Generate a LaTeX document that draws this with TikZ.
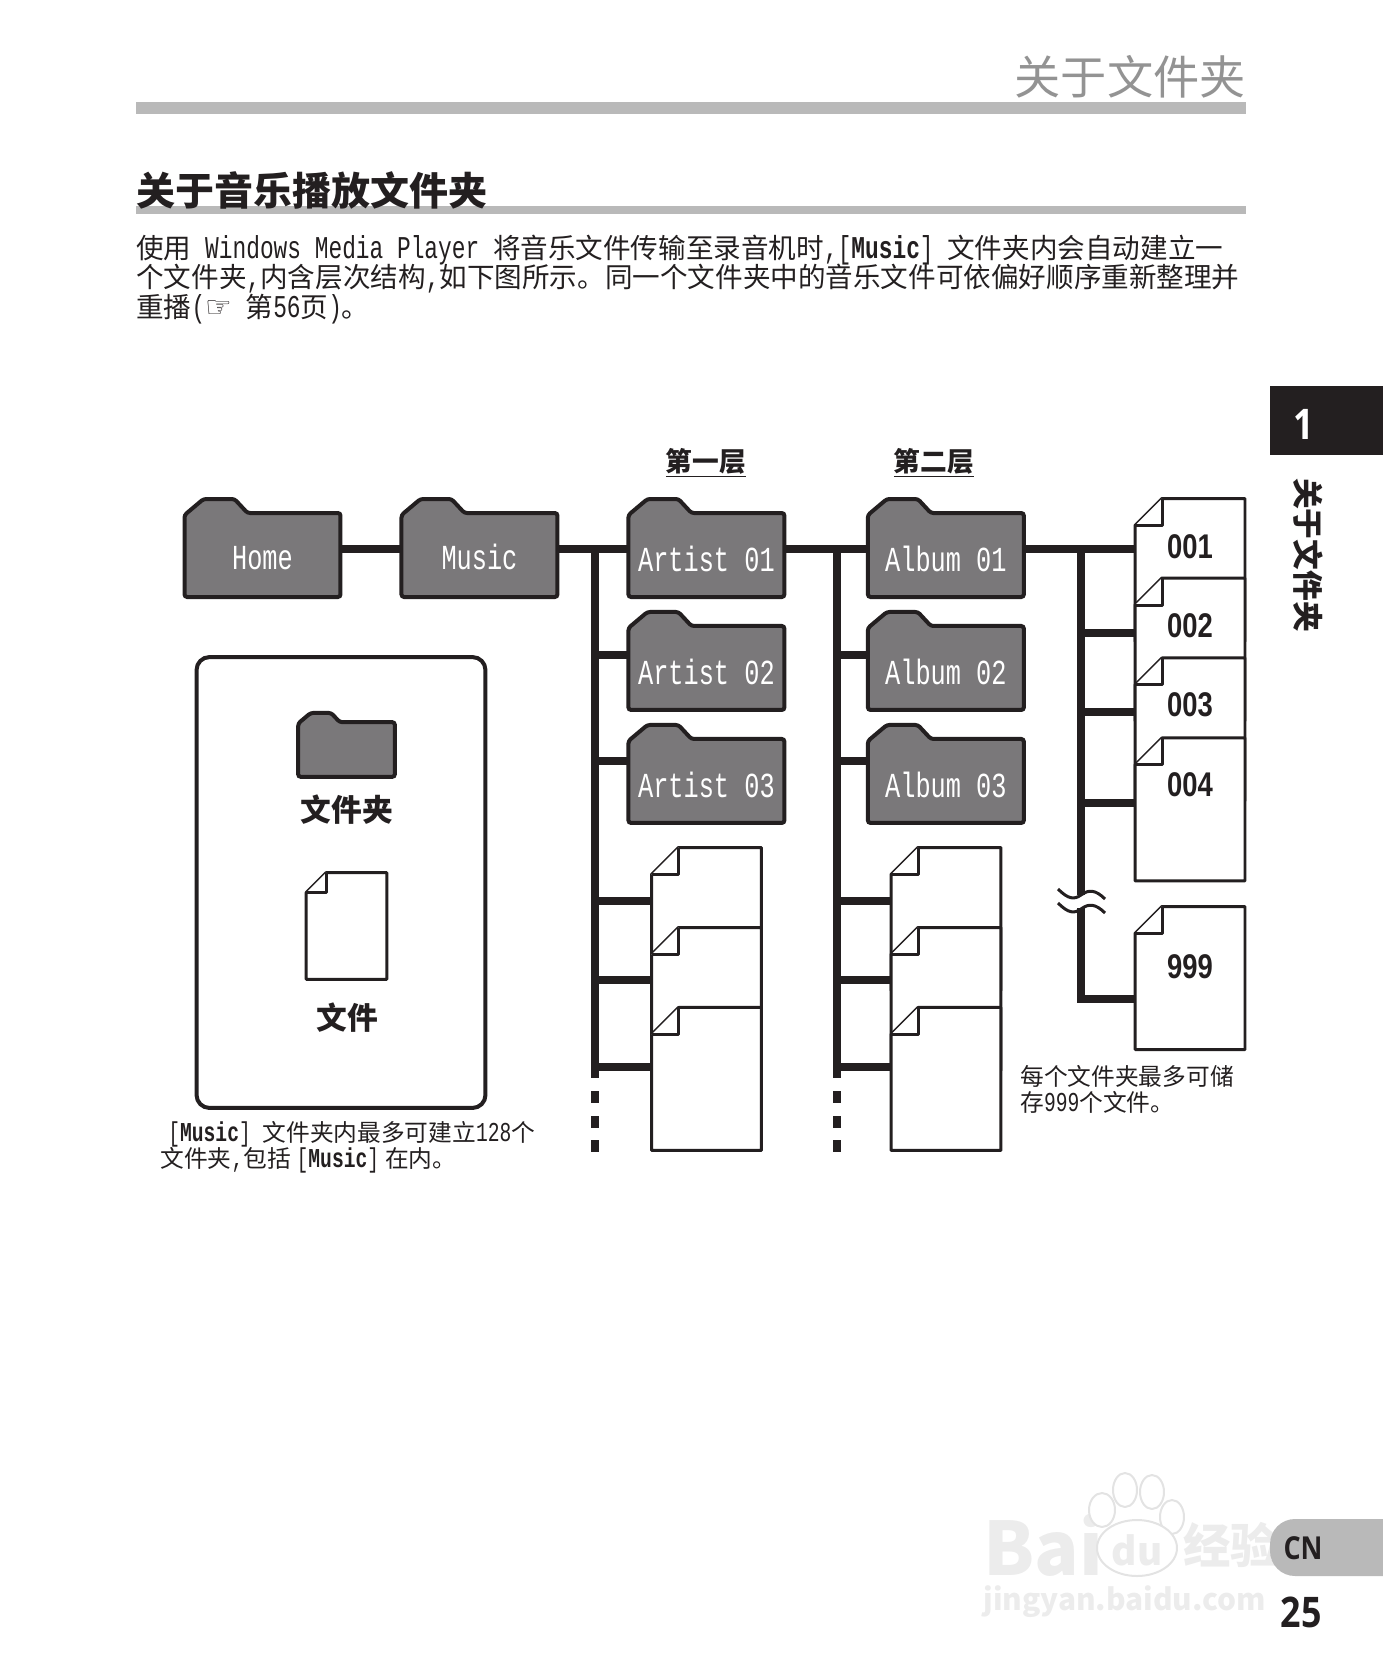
\documentclass[tikz,border=0pt]{standalone}
\usepackage{fontspec}
\setmainfont{Noto Sans CJK SC}
\newfontfamily\narfont[FakeStretch=0.72,Scale=1.15]{Liberation Mono}
\newfontfamily\foldfont[FakeStretch=0.72]{Liberation Mono}
\newfontfamily\pagefont[FakeStretch=0.8]{Liberation Sans}
\newfontfamily\tabfont[FakeStretch=0.85]{Open Sans}
\newfontfamily\handfont{DejaVu Sans}
\newcommand{\nar}[1]{{\narfont #1}}
\usetikzlibrary{backgrounds}
\definecolor{foldergray}{HTML}{7A787A}
\definecolor{rulegray}{HTML}{B9B9B9}
\definecolor{inkblack}{HTML}{231F20}

\begin{document}
\begin{tikzpicture}[x=0.02cm, y=-0.02cm, auto, node distance=4.34cm]
	% Define block styles
	\tikzstyle{folder} = [rectangle, inner sep=0pt, outer sep=0pt, minimum width=3.12cm, minimum height=1.68cm, text height=0.67cm, text=white, font=\foldfont\fontsize{20}{20}\selectfont]
	\tikzstyle{page} = [rectangle, inner sep=0pt, outer sep=0pt, minimum width=2.20cm, minimum height=2.86cm]
	\tikzstyle{foldline} = [draw=inkblack, fill=foldergray, line width=0.08cm, rounded corners=1.5pt]
	\tikzstyle{pageline} = [draw=inkblack, fill=white, line width=0.06cm, line join=round]
	\tikzstyle{line} = [draw=inkblack, line width=0.16cm]
	\tikzstyle{num} = [inner sep=0pt, text=inkblack, font=\pagefont\bfseries\fontsize{19.5}{19.5}\selectfont]
	\tikzstyle{note} = [inner sep=0pt, anchor=west, text=inkblack, font=\fontsize{13.5}{13.5}\selectfont]
	\tikzstyle{body} = [inner sep=0pt, anchor=west, text=inkblack, font=\fontsize{15.7}{15.7}\selectfont]
	\tikzstyle{head} = [inner sep=0pt, text=inkblack, font=\bfseries\fontsize{15.2}{15.2}\selectfont]
	\tikzstyle{legendtext} = [inner sep=0pt, text=inkblack, font=\bfseries\fontsize{17.5}{17.5}\selectfont]
	\tikzstyle{rulebar} = [rectangle, fill=rulegray, inner sep=0pt, minimum width=22.2cm]
	\tikzstyle{paw} = [draw=gray!22, fill=white, line width=0.04cm]
	\tikzstyle{wm} = [inner sep=0pt, text=gray!15]
	\useasboundingbox (0,0) rectangle (1383,1678);

	% Page furniture
	\node [rulebar, minimum height=0.24cm] (toprule) at (691,108) {};
	\node [rulebar, minimum height=0.16cm] (headrule) at (691,210) {};
	\node [inner sep=0pt, anchor=east, text=gray!85, font=\fontsize{26.3}{26.3}\selectfont] (runhead) at (1246,77) {关于文件夹};
	\node [inner sep=0pt, anchor=west, text=inkblack, font=\bfseries\fontsize{22.2}{22.2}\selectfont] (title) at (136,190) {关于音乐播放文件夹};
	\node [body] (line a) at (136,250) {使用\nar{ Windows Media Player }将音乐文件传输至录音机时\nar{,[}{\narfont\bfseries Music}\nar{] }文件夹内会自动建立一};
	\node [body] (line b) at (136,279) {个文件夹\nar{,}内含层次结构\nar{,}如下图所示。同一个文件夹中的音乐文件可依偏好顺序重新整理并};
	\node [body] (line c) at (136,309) {重播\nar{(}{\handfont\fontsize{17}{17}\selectfont ☞}\nar{ }第\nar{56}页\nar{)}。};

	% Side tab
	\node [rectangle, fill=inkblack, inner sep=0pt, minimum width=2.26cm, minimum height=1.38cm] (chapter box) at (1326.5,420.5) {};
	\node [inner sep=0pt, text=white, font=\tabfont\bfseries\fontsize{24}{24}\selectfont] (chapter) at (1304,424) {1};
	\node [inner sep=0pt, rotate=-90, text=inkblack, font=\bfseries\fontsize{17.5}{17.5}\selectfont] (side title) at (1308,555) {关于文件夹};

	% Watermark
	\node [wm, anchor=west, font=\bfseries\fontsize{42}{42}\selectfont] (wm bai) at (983,1545) {Bai};
	\draw [paw] (1102,1510) ellipse (13 and 17);
	\draw [paw] (1125,1490) ellipse (12 and 17);
	\draw [paw] (1152,1492) ellipse (12 and 17);
	\draw [paw] (1172,1517) ellipse (12 and 17);
	\draw [paw] (1137,1548) ellipse (40 and 28);
	\node [wm, font=\bfseries\fontsize{22}{22}\selectfont] (wm du) at (1137,1550) {du};
	\node [wm, anchor=west, font=\bfseries\fontsize{27}{27}\selectfont] (wm jing) at (1183,1545) {经验};
	\node [wm, anchor=west, font=\bfseries\fontsize{17}{17}\selectfont] (wm url) at (983,1602) {jingyan.baidu.com};

	% Language and page number
	\fill [rulegray, rounded corners=0.5cm] (1270,1519) rectangle (1420,1576);
	\node [inner sep=0pt, text=inkblack, font=\tabfont\bfseries\fontsize{18}{18}\selectfont] (lang) at (1303,1548) {CN};
	\node [inner sep=0pt, text=inkblack, font=\tabfont\bfseries\fontsize{24}{24}\selectfont] (pageno) at (1301,1612) {25};

	% Nodes
	\node [folder, text height=0.58cm] (home) at (262.5,555) {Home};
	\node [folder, text height=0.58cm, right of=home] (music) {Music};
	\node [folder, right of=music, node distance=4.54cm] (artist1) {Artist 01};
	\node [folder, below of=artist1, node distance=2.26cm] (artist2) {Artist 02};
	\node [folder, below of=artist2, node distance=2.26cm] (artist3) {Artist 03};
	\node [folder, right of=artist1, node distance=4.79cm] (album1) {Album 01};
	\node [folder, below of=album1, node distance=2.26cm] (album2) {Album 02};
	\node [folder, below of=album2, node distance=2.26cm] (album3) {Album 03};

	\node [page] (file a1) at (706.5,919) {};
	\node [page, below of=file a1, node distance=1.60cm] (file a2) {};
	\node [page, below of=file a2, node distance=1.60cm] (file a3) {};
	\node [page] (file b1) at (946,919) {};
	\node [page, below of=file b1, node distance=1.60cm] (file b2) {};
	\node [page, below of=file b2, node distance=1.60cm] (file b3) {};
	\node [page] (file 001) at (1190,570) {};
	\node [page, below of=file 001, node distance=1.59cm] (file 002) {};
	\node [page, below of=file 002, node distance=1.60cm] (file 003) {};
	\node [page, below of=file 003, node distance=1.60cm] (file 004) {};
	\node [page] (file 999) at (1190,978) {};

	\node [num] (label 001) at (1190,547) {001};
	\node [num] (label 002) at (1190,626) {002};
	\node [num] (label 003) at (1190,705) {003};
	\node [num] (label 004) at (1190,785) {004};
	\node [num] (label 999) at (1190,967) {999};

	\node [head] (level one) at (706,463) {\underline{第一层}};
	\node [head] (level two) at (934,463) {\underline{第二层}};

	% Legend
	\node [rectangle, draw=inkblack, line width=0.08cm, rounded corners=0.26cm, inner sep=0pt, minimum width=5.78cm, minimum height=9.02cm] (legend box) at (341,882.5) {};
	\node [rectangle, inner sep=0pt, minimum width=1.92cm, minimum height=1.08cm] (legend folder) at (346.5,749.5) {};
	\node [rectangle, inner sep=0pt, minimum width=1.60cm, minimum height=2.12cm] (legend file) at (346.5,926) {};
	\node [legendtext] (legend folder text) at (347,810) {文件夹};
	\node [legendtext] (legend file text) at (347,1018) {文件};

	% Notes
	\node [note] (note a) at (168,1134) {\nar{[}{\narfont\bfseries Music}\nar{] }文件夹内最多可建立\nar{128}个};
	\node [note] (note b) at (160,1160) {文件夹\nar{,}包括\hspace{0.25em}\nar{[}{\narfont\bfseries Music}\nar{]}\hspace{0.25em}在内。};
	\node [note] (note c) at (1020,1076) {每个文件夹最多可储};
	\node [note] (note d) at (1020,1102) {存\nar{999}个文件。};

	% Folder and file outlines
	\begin{scope}[on background layer]
		\foreach \f/\s in {home/1,music/1,artist1/1,artist2/1,artist3/1,album1/1,album2/1,album3/1,legend folder/0.66}
			\path [foldline] (\f.south west) -- ([yshift=-\s*0.04cm]\f.north west) -- ++({\s*19},{-\s*16}) -- ++({\s*31},0) -- ++({\s*13},{\s*14}) -- (\f.north east) -- (\f.south east) -- cycle;
		\foreach \p/\d in {file a1/27,file a2/27,file a3/27,file b1/27,file b2/27,file b3/27,file 001/27,file 002/27,file 003/27,file 004/27,file 999/27,legend file/20} {
			\path [pageline] ([xshift=\d*0.02cm]\p.north west) -- (\p.north east) -- (\p.south east) -- (\p.south west) -- ([yshift=-\d*0.02cm]\p.north west) -- cycle;
			\path [pageline] ([xshift=\d*0.02cm]\p.north west) -- ++(0,\d) -- ([yshift=-\d*0.02cm]\p.north west);
		}
	\end{scope}

	% Connecting lines
	\coordinate (main) at (0,549);
	\coordinate (trunk a) at (595,549);
	\coordinate (trunk b) at (837,549);
	\coordinate (trunk c) at (1081,549);
	\path [line] (home.east |- main) -- (music.west |- main);
	\path [line] (music.east |- main) -- (artist1.west |- main);
	\path [line] (artist1.east |- main) -- (album1.west |- main);
	\path [line] (album1.east |- main) -- (file 001.west |- main);
	\path [line] (trunk a) -- (trunk a |- 0,1078);
	\path [line] (trunk b) -- (trunk b |- 0,1078);
	\foreach \t in {trunk a,trunk b}
		\foreach \a/\b in {1091/1103,1116/1128,1140/1152}
			\path [line] (\t |- 0,\a) -- (\t |- 0,\b);
	\path [line] (trunk a |- 0,655) -- (artist2.west |- 0,655);
	\path [line] (trunk a |- 0,761) -- (artist3.west |- 0,761);
	\path [line] (trunk a |- 0,901) -- (file a1.west |- 0,901);
	\path [line] (trunk a |- 0,980) -- (file a2.west |- 0,980);
	\path [line] (trunk a |- 0,1067) -- (file a3.west |- 0,1067);
	\path [line] (trunk b |- 0,655) -- (album2.west |- 0,655);
	\path [line] (trunk b |- 0,761) -- (album3.west |- 0,761);
	\path [line] (trunk b |- 0,901) -- (file b1.west |- 0,901);
	\path [line] (trunk b |- 0,980) -- (file b2.west |- 0,980);
	\path [line] (trunk b |- 0,1067) -- (file b3.west |- 0,1067);
	\path [line] (trunk c) -- (trunk c |- 0,895);
	\path [line] (trunk c |- 0,908) -- (trunk c |- 0,999) -- (file 999.west |- 0,999);
	\path [line] (trunk c |- 0,633) -- (file 002.west |- 0,633);
	\path [line] (trunk c |- 0,712) -- (file 003.west |- 0,712);
	\path [line] (trunk c |- 0,803) -- (file 004.west |- 0,803);

	% Break in the line
	\draw [inkblack, line width=0.06cm] (1058,889) .. controls (1068,899) and (1074,900) .. (1081,895) .. controls (1089,889) and (1096,890) .. (1105,899);
	\draw [inkblack, line width=0.06cm] (1058,903) .. controls (1068,913) and (1074,914) .. (1081,909) .. controls (1089,903) and (1096,904) .. (1105,913);
\end{tikzpicture}
\end{document}
